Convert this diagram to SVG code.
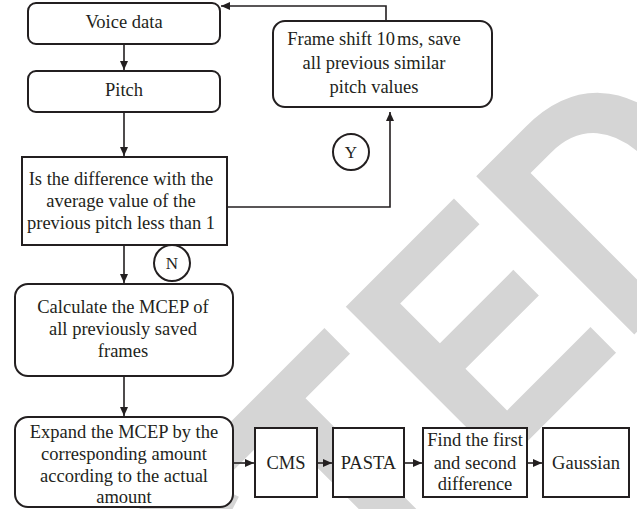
<svg xmlns="http://www.w3.org/2000/svg" width="637" height="509" viewBox="0 0 637 509">
<style>
.box{fill:#fff;stroke:#231f20;stroke-width:2}
.t{font-family:"Liberation Serif","Times New Roman",serif;font-size:18.5px;fill:#231f20;text-anchor:middle}
.c{fill:none;stroke:#231f20;stroke-width:1.6}
.wm{font-family:"Liberation Sans",Arial,sans-serif;font-weight:bold;font-size:325px;fill:#d5d5d5}
</style>
<defs>
<marker id="ah" markerUnits="userSpaceOnUse" markerWidth="9" markerHeight="8" refX="9" refY="4" orient="auto">
<path d="M0,0 L9,4 L0,8 z" fill="#231f20"/>
</marker>
</defs>
<rect width="637" height="509" fill="#fff"/>
<text class="wm" transform="rotate(-45) scale(0.87,1)" x="-1552" y="685">RETRAC<tspan x="-198">T</tspan><tspan x="10">E</tspan><tspan x="222">D</tspan></text>
<g id="connectors">
<path class="c" d="M124,44 V70" marker-end="url(#ah)"/>
<path class="c" d="M124,112 V156" marker-end="url(#ah)"/>
<path class="c" d="M227,207 H390 V112" marker-end="url(#ah)"/>
<path class="c" d="M386,21 V6 H221" marker-end="url(#ah)"/>
<path class="c" d="M124,245 V283" marker-end="url(#ah)"/>
<path class="c" d="M124,376 V416" marker-end="url(#ah)"/>
<path class="c" d="M233,463 H254" marker-end="url(#ah)"/>
<path class="c" d="M317,463 H332" marker-end="url(#ah)"/>
<path class="c" d="M404,463 H422" marker-end="url(#ah)"/>
<path class="c" d="M527,463 H542" marker-end="url(#ah)"/>
</g>
<g id="voice">
<rect class="box" x="28" y="3" width="192" height="41" rx="8"/>
<text class="t" x="124" y="28">Voice data</text>
</g>
<g id="pitch">
<rect class="box" x="28" y="71" width="192" height="41" rx="8"/>
<text class="t" x="124" y="96">Pitch</text>
</g>
<g id="frame">
<rect class="box" x="273" y="21" width="219" height="86" rx="12"/>
<text class="t" x="374" y="45">Frame shift 10<tspan dx="2">ms, save</tspan></text>
<text class="t" x="374" y="69">all previous similar</text>
<text class="t" x="374" y="93">pitch values</text>
</g>
<g id="decision">
<rect class="box" x="22" y="157" width="205" height="88"/>
<text class="t" x="121" y="185">Is the difference with the</text>
<text class="t" x="121" y="207">average value of the</text>
<text class="t" x="121" y="229">previous pitch less than 1</text>
</g>
<g id="yes">
<circle class="box" cx="351" cy="152" r="18" stroke-width="1.6"/>
<text class="t" x="351" y="158" style="font-size:17px">Y</text>
</g>
<g id="no">
<circle class="box" cx="172" cy="263" r="18" stroke-width="1.6"/>
<text class="t" x="172" y="269" style="font-size:17px">N</text>
</g>
<g id="calc">
<rect class="box" x="15" y="284" width="218" height="92" rx="13"/>
<text class="t" x="123" y="313">Calculate the MCEP of</text>
<text class="t" x="123" y="335">all previously saved</text>
<text class="t" x="123" y="357">frames</text>
</g>
<g id="expand">
<rect class="box" x="15" y="417" width="218" height="90" rx="13"/>
<text class="t" x="124" y="438">Expand the MCEP by the</text>
<text class="t" x="124" y="460">corresponding amount</text>
<text class="t" x="124" y="482">according to the actual</text>
<text class="t" x="124" y="503">amount</text>
</g>
<g id="cms">
<rect class="box" x="255" y="428" width="62" height="69"/>
<text class="t" x="286" y="469">CMS</text>
</g>
<g id="pasta">
<rect class="box" x="333" y="428" width="71" height="69"/>
<text class="t" x="368.5" y="469">PASTA</text>
</g>
<g id="find">
<rect class="box" x="423" y="428" width="104" height="69"/>
<text class="t" x="475" y="446">Find the first</text>
<text class="t" x="475" y="469">and second</text>
<text class="t" x="475" y="490">difference</text>
</g>
<g id="gauss">
<rect class="box" x="543" y="428" width="86" height="69"/>
<text class="t" x="586" y="469">Gaussian</text>
</g>
</svg>
